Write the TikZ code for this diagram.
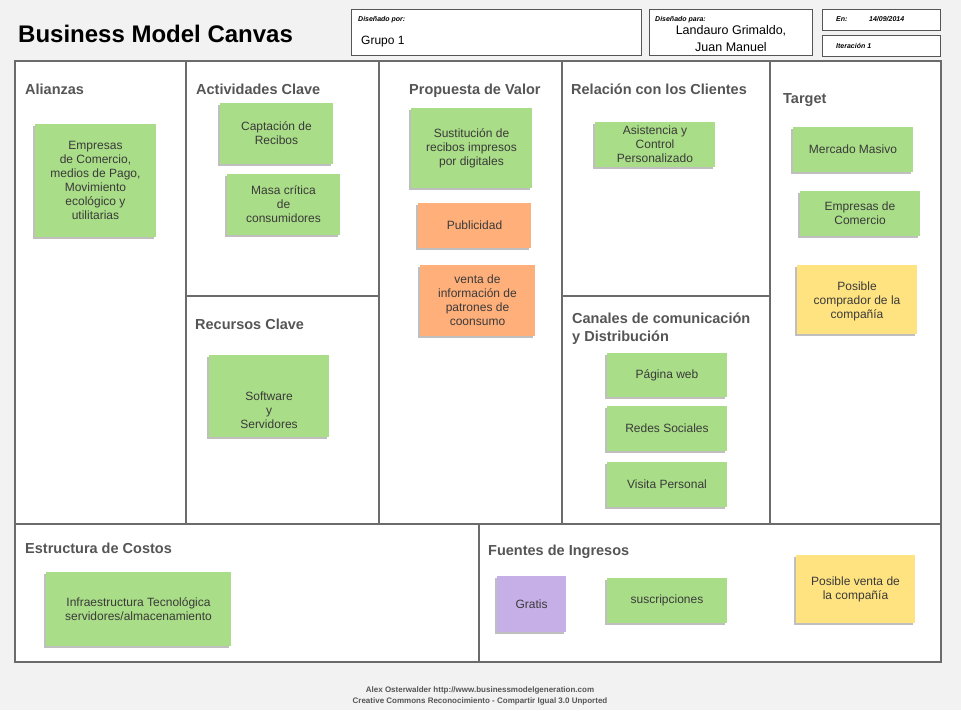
\documentclass[tikz,border=0pt]{standalone}
\usepackage{fontspec}
\setmainfont{Liberation Sans}
\usetikzlibrary{shadows}
\definecolor{bg}{HTML}{F2F2F2}
\definecolor{frame}{HTML}{6B6B6B}
\definecolor{sect}{HTML}{555555}
\definecolor{notetxt}{HTML}{3A3A3A}
\definecolor{ngreen}{HTML}{A9DD87}
\definecolor{norange}{HTML}{FFAF7A}
\definecolor{nyellow}{HTML}{FFE381}
\definecolor{npurple}{HTML}{C6AFE6}
\tikzset{
  note/.style={draw=none, align=center, text=notetxt, inner sep=0pt,
    font=\fontsize{12}{14}\selectfont,
    drop shadow={shadow xshift=-2pt, shadow yshift=-2pt, opacity=0.25, fill=black}},
  secttitle/.style={anchor=base west, inner sep=0pt, text=sect, font=\fontsize{14.5}{17}\selectfont\bfseries},
  hdrbox/.style={draw=sect, line width=0.8pt, fill=white, inner sep=0pt},
  hdrlabel/.style={anchor=base west, inner sep=0pt, font=\fontsize{7}{8}\selectfont\bfseries\itshape},
  canvasline/.style={draw=frame, line width=1.8pt},
  foot/.style={inner sep=0pt, text=sect, font=\fontsize{8}{10}\selectfont\bfseries, align=center}
}
\newcommand{\stickynote}[7]{%
  \node[note, fill=#2, minimum width={(#5)-(#3)}, minimum height={(#6)-(#4)}] (#1) at ({((#3)+(#5))/2},{((#4)+(#6))/2}) {#7};}
\begin{document}
\begin{tikzpicture}[x=1pt,y=-1pt]
\fill[bg] (0,0) rectangle (961,710);
\useasboundingbox (0,0) rectangle (961,710);

% title
\node[anchor=base west, inner sep=0pt, font=\fontsize{24}{28}\selectfont\bfseries] (title) at (18,42) {Business Model Canvas};

% header boxes
\node[hdrbox, minimum width=290pt, minimum height=46pt] (por) at (496,32) {};
\node[hdrlabel] (porlab) at (358,21) {Diseñado por:};
\node[anchor=base west, inner sep=0pt, font=\fontsize{12}{14}\selectfont] (portxt) at (361,44.5) {Grupo 1};

\node[hdrbox, minimum width=163pt, minimum height=46pt] (para) at (730.5,32) {};
\node[hdrlabel] (paralab) at (655,21) {Diseñado para:};
\node[align=center, inner sep=0pt, font=\fontsize{12.5}{17}\selectfont] (paratxt) at (731,39) {Landauro Grimaldo,\\Juan Manuel};

\node[hdrbox, minimum width=118pt, minimum height=21pt] (en) at (881,19.5) {};
\node[hdrlabel] (enlab) at (836,21) {En:};
\node[hdrlabel] (endate) at (869,21) {14/09/2014};
\node[hdrbox, minimum width=118pt, minimum height=21pt] (iter) at (881,45.5) {};
\node[hdrlabel] (iterlab) at (836,48) {Iteración 1};

% canvas
\fill[white] (15,61) rectangle (941,662);
\draw[canvasline] (186,61) -- (186,524);
\draw[canvasline] (379,61) -- (379,524);
\draw[canvasline] (562,61) -- (562,524);
\draw[canvasline] (770,61) -- (770,524);
\draw[canvasline] (186,296) -- (379,296);
\draw[canvasline] (562,296) -- (770,296);
\draw[canvasline] (15,524) -- (941,524);
\draw[canvasline] (479,524) -- (479,662);
\draw[draw=frame, line width=2.6pt] (15,61) rectangle (941,662);

% section titles
\node[secttitle] (t1) at (25,94) {Alianzas};
\node[secttitle] (t2) at (196,94) {Actividades Clave};
\node[secttitle] (t3) at (409,94) {Propuesta de Valor};
\node[secttitle] (t4) at (571,94) {Relación con los Clientes};
\node[secttitle] (t5) at (783,103) {Target};
\node[secttitle] (t6) at (195,329) {Recursos Clave};
\node[secttitle, align=left, anchor=north west, font=\fontsize{14.5}{18}\selectfont\bfseries] (t7) at (572,313) {Canales de comunicación\\y Distribución};
\node[secttitle] (t8) at (25,553) {Estructura de Costos};
\node[secttitle] (t9) at (488,555) {Fuentes de Ingresos};

% notes
\stickynote{n1}{ngreen}{35}{124}{156}{237}{Empresas\\de Comercio,\\medios de Pago,\\Movimiento\\ecológico y\\utilitarias}
\stickynote{n2}{ngreen}{220}{103}{333}{164}{Captación de\\Recibos}
\stickynote{n3}{ngreen}{227}{174}{340}{235}{Masa crítica\\de\\consumidores}
\stickynote{n4}{ngreen}{411}{108}{532}{188}{Sustitución de\\recibos impresos\\por digitales}
\stickynote{n5}{norange}{418}{203}{531}{248}{Publicidad}
\stickynote{n6}{norange}{420}{265}{535}{336}{venta de\\información de\\patrones de\\coonsumo}
\stickynote{n7}{ngreen}{595}{122}{715}{167}{Asistencia y\\Control\\Personalizado}
\stickynote{n8}{ngreen}{793}{127}{913}{172}{Mercado Masivo}
\stickynote{n9}{ngreen}{800}{191}{920}{236}{Empresas de\\Comercio}
\stickynote{n10}{nyellow}{797}{265}{917}{334}{\\[-2pt]Posible\\comprador de la\\compañía}
\stickynote{n11}{ngreen}{209}{355}{329}{437}{}
\node[align=center, inner sep=0pt, text=notetxt, font=\fontsize{12}{14}\selectfont] (n11t) at (n11.center) [yshift=-14pt] {Software\\y\\Servidores};
\stickynote{n12}{ngreen}{607}{353}{727}{397}{Página web}
\stickynote{n13}{ngreen}{607}{406}{727}{451}{Redes Sociales}
\stickynote{n14}{ngreen}{607}{462}{727}{507}{Visita Personal}
\stickynote{n15}{ngreen}{46}{572}{231}{646}{Infraestructura Tecnológica\\servidores/almacenamiento}
\stickynote{n16}{npurple}{497}{576}{566}{632}{Gratis}
\stickynote{n17}{ngreen}{607}{578}{727}{623}{suscripciones}
\stickynote{n18}{nyellow}{796}{555}{915}{623}{Posible venta de\\la compañía}

% footer
\node[foot] (f1) at (480,690.5) {Alex Osterwalder http://www.businessmodelgeneration.com};
\node[foot] (f2) at (480,701.5) {Creative Commons Reconocimiento - Compartir Igual 3.0 Unported};
\end{tikzpicture}
\end{document}
